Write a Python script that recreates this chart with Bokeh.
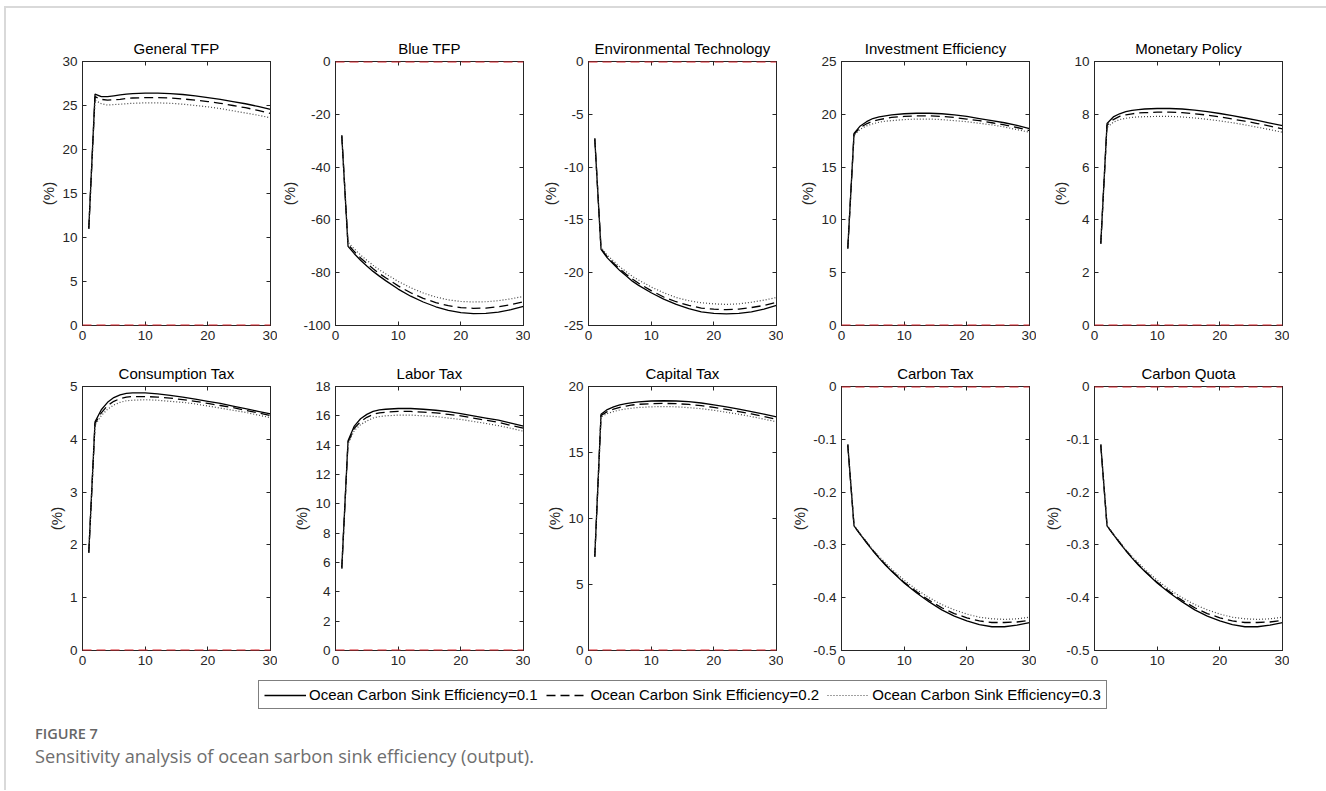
import numpy as np
from bokeh.plotting import figure
from bokeh.layouts import row, column
from bokeh.models import (Range1d, FixedTicker, Legend, LegendItem, LinearAxis,
                          Div, Spacer, Span, ColumnDataSource)
from bokeh.embed import file_html
from bokeh.resources import INLINE

try:
    from bokeh.models import CustomLabelingPolicy
except Exception:  # pragma: no cover
    CustomLabelingPolicy = None

# ---------------- data ----------------
periods = [1, 2, 3, 4, 5, 6, 7, 8, 10, 12, 14, 16, 18, 20, 22, 24, 26, 28, 30]

series_labels = ["Ocean Carbon Sink Efficiency=0.1",
                 "Ocean Carbon Sink Efficiency=0.2",
                 "Ocean Carbon Sink Efficiency=0.3"]

titles = ["General TFP", "Blue TFP", "Environmental Technology",
          "Investment Efficiency", "Monetary Policy",
          "Consumption Tax", "Labor Tax", "Capital Tax",
          "Carbon Tax", "Carbon Quota"]

y_limits = [(0, 30), (-100, 0), (-25, 0), (0, 25), (0, 10),
            (0, 5), (0, 18), (0, 20), (-0.5, 0), (-0.5, 0)]

y_ticks = [[0, 5, 10, 15, 20, 25, 30],
           [-100, -80, -60, -40, -20, 0],
           [-25, -20, -15, -10, -5, 0],
           [0, 5, 10, 15, 20, 25],
           [0, 2, 4, 6, 8, 10],
           [0, 1, 2, 3, 4, 5],
           [0, 2, 4, 6, 8, 10, 12, 14, 16, 18],
           [0, 5, 10, 15, 20],
           [-0.5, -0.4, -0.3, -0.2, -0.1, 0],
           [-0.5, -0.4, -0.3, -0.2, -0.1, 0]]

x_ticks = [0, 10, 20, 30]
x_limits = (0, 30)

general_tfp_01 = [11.0, 26.3, 26.0, 26.0, 26.1, 26.2, 26.3, 26.35, 26.4, 26.4, 26.35, 26.25, 26.1, 25.9, 25.7, 25.45, 25.2, 24.9, 24.55]
general_tfp_02 = [11.0, 26.0, 25.7, 25.6, 25.65, 25.7, 25.8, 25.85, 25.9, 25.9, 25.85, 25.75, 25.6, 25.45, 25.25, 25.0, 24.75, 24.45, 24.1]
general_tfp_03 = [11.0, 25.6, 25.2, 25.05, 25.1, 25.15, 25.2, 25.25, 25.3, 25.3, 25.25, 25.15, 25.0, 24.85, 24.65, 24.4, 24.15, 23.9, 23.6]

blue_tfp_01 = [-28, -70.0, -72.8, -75.3, -77.5, -79.5, -81.3, -83.0, -86.2, -88.9, -91.1, -92.9, -94.3, -95.1, -95.5, -95.4, -94.9, -94.0, -92.8]
blue_tfp_02 = [-28, -69.3, -72.0, -74.4, -76.5, -78.5, -80.3, -81.9, -85.0, -87.6, -89.7, -91.3, -92.5, -93.2, -93.5, -93.4, -92.9, -92.1, -91.0]
blue_tfp_03 = [-28, -68.5, -71.0, -73.3, -75.3, -77.2, -78.9, -80.4, -83.3, -85.7, -87.7, -89.2, -90.3, -90.9, -91.1, -91.0, -90.6, -89.9, -89.0]

env_tech_01 = [-7.3, -17.8, -18.6, -19.2, -19.8, -20.3, -20.8, -21.2, -21.9, -22.5, -23.0, -23.4, -23.7, -23.85, -23.9, -23.85, -23.7, -23.45, -23.1]
env_tech_02 = [-7.3, -17.7, -18.5, -19.1, -19.65, -20.15, -20.6, -21.0, -21.7, -22.3, -22.75, -23.1, -23.35, -23.45, -23.5, -23.45, -23.3, -23.1, -22.8]
env_tech_03 = [-7.3, -17.6, -18.35, -18.9, -19.45, -19.9, -20.35, -20.7, -21.35, -21.9, -22.35, -22.65, -22.85, -22.95, -23.0, -22.95, -22.8, -22.6, -22.35]

invest_eff_01 = [7.3, 18.2, 18.9, 19.3, 19.6, 19.75, 19.85, 19.95, 20.05, 20.1, 20.1, 20.05, 19.95, 19.8, 19.6, 19.4, 19.2, 18.95, 18.65]
invest_eff_02 = [7.3, 18.1, 18.75, 19.1, 19.35, 19.5, 19.6, 19.7, 19.8, 19.85, 19.85, 19.8, 19.7, 19.55, 19.4, 19.2, 19.0, 18.75, 18.45]
invest_eff_03 = [7.3, 18.0, 18.6, 18.9, 19.1, 19.25, 19.35, 19.4, 19.5, 19.55, 19.55, 19.5, 19.4, 19.3, 19.15, 19.0, 18.8, 18.55, 18.3]

monetary_01 = [3.1, 7.65, 7.9, 8.02, 8.1, 8.15, 8.18, 8.2, 8.22, 8.22, 8.2, 8.16, 8.1, 8.03, 7.95, 7.86, 7.77, 7.67, 7.57]
monetary_02 = [3.1, 7.58, 7.8, 7.92, 7.98, 8.02, 8.05, 8.06, 8.08, 8.08, 8.06, 8.02, 7.97, 7.9, 7.82, 7.74, 7.65, 7.55, 7.45]
monetary_03 = [3.1, 7.5, 7.7, 7.8, 7.85, 7.88, 7.9, 7.91, 7.92, 7.92, 7.9, 7.86, 7.81, 7.75, 7.68, 7.6, 7.51, 7.42, 7.32]

consumption_tax_01 = [1.85, 4.33, 4.56, 4.7, 4.79, 4.84, 4.87, 4.88, 4.88, 4.86, 4.83, 4.8, 4.76, 4.72, 4.68, 4.63, 4.58, 4.53, 4.48]
consumption_tax_02 = [1.85, 4.3, 4.5, 4.64, 4.72, 4.77, 4.8, 4.81, 4.81, 4.8, 4.78, 4.75, 4.72, 4.68, 4.64, 4.6, 4.55, 4.5, 4.45]
consumption_tax_03 = [1.85, 4.27, 4.45, 4.57, 4.65, 4.7, 4.73, 4.74, 4.75, 4.74, 4.72, 4.7, 4.67, 4.63, 4.59, 4.55, 4.51, 4.46, 4.41]

labor_tax_01 = [5.6, 14.3, 15.3, 15.8, 16.1, 16.3, 16.4, 16.45, 16.5, 16.5, 16.45, 16.38, 16.28, 16.15, 16.0, 15.85, 15.7, 15.5, 15.3]
labor_tax_02 = [5.6, 14.2, 15.15, 15.6, 15.9, 16.1, 16.2, 16.25, 16.3, 16.3, 16.25, 16.2, 16.1, 16.0, 15.85, 15.7, 15.55, 15.35, 15.15]
labor_tax_03 = [5.6, 14.1, 15.0, 15.4, 15.65, 15.85, 15.95, 16.0, 16.05, 16.05, 16.0, 15.95, 15.85, 15.75, 15.62, 15.48, 15.33, 15.15, 14.95]

capital_tax_01 = [7.1, 17.9, 18.25, 18.45, 18.6, 18.7, 18.78, 18.84, 18.9, 18.92, 18.9, 18.85, 18.75, 18.6, 18.45, 18.28, 18.1, 17.9, 17.7]
capital_tax_02 = [7.1, 17.8, 18.1, 18.28, 18.42, 18.52, 18.6, 18.65, 18.7, 18.72, 18.7, 18.64, 18.55, 18.42, 18.27, 18.1, 17.92, 17.73, 17.52]
capital_tax_03 = [7.1, 17.7, 17.95, 18.1, 18.22, 18.3, 18.36, 18.41, 18.46, 18.48, 18.46, 18.4, 18.32, 18.2, 18.05, 17.9, 17.72, 17.53, 17.33]

carbon_tax_01 = [-0.11, -0.264, -0.28, -0.296, -0.311, -0.325, -0.338, -0.35, -0.372, -0.391, -0.408, -0.423, -0.435, -0.444, -0.451, -0.455, -0.455, -0.452, -0.447]
carbon_tax_02 = [-0.11, -0.264, -0.28, -0.295, -0.31, -0.324, -0.337, -0.349, -0.371, -0.389, -0.405, -0.419, -0.43, -0.438, -0.444, -0.447, -0.447, -0.446, -0.443]
carbon_tax_03 = [-0.11, -0.263, -0.279, -0.294, -0.309, -0.322, -0.334, -0.346, -0.367, -0.385, -0.4, -0.413, -0.423, -0.431, -0.437, -0.44, -0.441, -0.44, -0.437]

carbon_quota_01 = [-0.11, -0.264, -0.28, -0.296, -0.311, -0.325, -0.338, -0.35, -0.372, -0.391, -0.408, -0.423, -0.435, -0.444, -0.451, -0.455, -0.455, -0.452, -0.447]
carbon_quota_02 = [-0.11, -0.264, -0.28, -0.295, -0.31, -0.324, -0.337, -0.349, -0.371, -0.389, -0.405, -0.419, -0.43, -0.438, -0.444, -0.447, -0.447, -0.446, -0.443]
carbon_quota_03 = [-0.11, -0.263, -0.279, -0.294, -0.309, -0.322, -0.334, -0.346, -0.367, -0.385, -0.4, -0.413, -0.423, -0.431, -0.437, -0.44, -0.441, -0.44, -0.437]

panel_series = [
    (general_tfp_01, general_tfp_02, general_tfp_03),
    (blue_tfp_01, blue_tfp_02, blue_tfp_03),
    (env_tech_01, env_tech_02, env_tech_03),
    (invest_eff_01, invest_eff_02, invest_eff_03),
    (monetary_01, monetary_02, monetary_03),
    (consumption_tax_01, consumption_tax_02, consumption_tax_03),
    (labor_tax_01, labor_tax_02, labor_tax_03),
    (capital_tax_01, capital_tax_02, capital_tax_03),
    (carbon_tax_01, carbon_tax_02, carbon_tax_03),
    (carbon_quota_01, carbon_quota_02, carbon_quota_03),
]

# ---------------- styles ----------------
FONT = "Liberation Sans"
AX = "#262626"
RULE = "#d9d9d9"
line_styles = [dict(line_color="black", line_width=1.3, line_dash="solid"),
               dict(line_color="black", line_width=1.3, line_dash="9 5"),
               dict(line_color="#444444", line_width=1.2, line_dash="1 2")]
ZERO_COLOR = "#d9262e"

HIDE_LABELS_JS = """
try {
  for (let i = 0; i < bboxes.length; i++) { indices.unset(i) }
} catch (e) {}
return (typeof indices !== "undefined") ? indices : arguments[0]
"""


def fmt(t):
    return f"{t:g}"


def style_axis(ax, ticks, show_labels=True):
    ax.ticker = FixedTicker(ticks=ticks)
    ax.axis_line_color = AX
    ax.major_tick_line_color = AX
    ax.major_tick_in = 4
    ax.major_tick_out = 0
    ax.minor_tick_line_color = None
    if show_labels:
        ax.major_label_overrides = {t: fmt(t) for t in ticks}
        ax.major_label_text_font = FONT
        ax.major_label_text_font_size = "13.5px"
        ax.major_label_text_color = AX
        ax.major_label_standoff = 5
    else:
        ax.major_label_text_font_size = "0px"
        ax.major_label_standoff = 0
        if CustomLabelingPolicy is not None:
            ax.major_label_policy = CustomLabelingPolicy(code=HIDE_LABELS_JS)


def make_panel(i):
    lo, hi = y_limits[i]
    p = figure(frame_width=188, frame_height=264,
               x_range=Range1d(*x_limits), y_range=Range1d(lo, hi),
               toolbar_location=None, output_backend="svg",
               min_border_left=58, min_border_right=7,
               min_border_top=36, min_border_bottom=25,
               background_fill_color="white", border_fill_color="white")
    p.grid.visible = False
    p.outline_line_color = AX
    p.outline_line_width = 1
    p.title.text = titles[i]
    p.title.text_font = FONT
    p.title.text_font_size = "15px"
    p.title.text_font_style = "normal"
    p.title.text_color = "black"
    p.title.align = "center"
    p.title.standoff = 9

    style_axis(p.xaxis[0], x_ticks)
    style_axis(p.yaxis[0], y_ticks[i])
    p.yaxis[0].axis_label = "(%)"
    p.yaxis[0].axis_label_text_font = FONT
    p.yaxis[0].axis_label_text_font_size = "15px"
    p.yaxis[0].axis_label_text_font_style = "normal"
    p.yaxis[0].axis_label_text_color = AX
    p.yaxis[0].axis_label_standoff = 2

    # inward ticks on the top and right edges (box on), without labels
    top_ax = LinearAxis()
    style_axis(top_ax, x_ticks, show_labels=False)
    p.add_layout(top_ax, "above")
    right_ax = LinearAxis()
    style_axis(right_ax, y_ticks[i], show_labels=False)
    p.add_layout(right_ax, "right")

    for vals, st in zip(panel_series[i], line_styles):
        p.line(periods, vals, **st)

    p.add_layout(Span(location=0, dimension="width", line_color=ZERO_COLOR,
                      line_width=2, line_dash="9 5"))
    return p


panels = [make_panel(i) for i in range(10)]

row1 = row(Spacer(width=18), *panels[:5])
row2 = row(Spacer(width=18), *panels[5:])

# ---------------- legend strip ----------------
lf = figure(width=1310, height=40, x_range=Range1d(0, 1), y_range=Range1d(0, 1),
            toolbar_location=None, output_backend="svg",
            x_axis_location=None, y_axis_location=None, min_border=0)
lf.grid.visible = False
lf.outline_line_color = None
items = []
for lab, st in zip(series_labels, line_styles):
    src = ColumnDataSource(data=dict(x=np.array([np.nan]), y=np.array([np.nan])))
    r = lf.line(x="x", y="y", source=src, **st)
    items.append(LegendItem(label=lab, renderers=[r]))
legend = Legend(items=items, orientation="horizontal", location=(252, 6),
                margin=0, padding=5, spacing=8, glyph_width=42, glyph_height=16,
                label_height=16, label_standoff=3,
                label_text_font=FONT, label_text_font_size="15px",
                label_text_color="black",
                border_line_color="black", border_line_width=1,
                background_fill_color="white", background_fill_alpha=1)
lf.add_layout(legend, "center")

# ---------------- frame rules & caption ----------------
left_rule = Div(text="", width=2, height=784, margin=(6, 0, 0, 4),
                styles={"background-color": RULE})
top_rule = Div(text="", width=1320, height=2, margin=(6, 0, 0, 0),
               styles={"background-color": RULE})
caption = Div(
    text=('<div style="padding-left:29px;font-family:\'Open Sans\';">'
          '<div style="font-size:14.5px;font-weight:600;color:#666666;'
          'line-height:18px;margin-top:10px;">FIGURE 7</div>'
          '<div style="font-size:18.2px;color:#6e6e6e;line-height:24px;'
          'margin-top:1px;">Sensitivity analysis of ocean sarbon sink '
          'efficiency (output).</div></div>'),
    width=1300, height=60, margin=(0, 0, 0, 0))

content = column(top_rule, Spacer(height=17), row1, row2, lf, caption)
layout = row(left_rule, content)

open("out.html", "w").write(file_html(layout, INLINE))
